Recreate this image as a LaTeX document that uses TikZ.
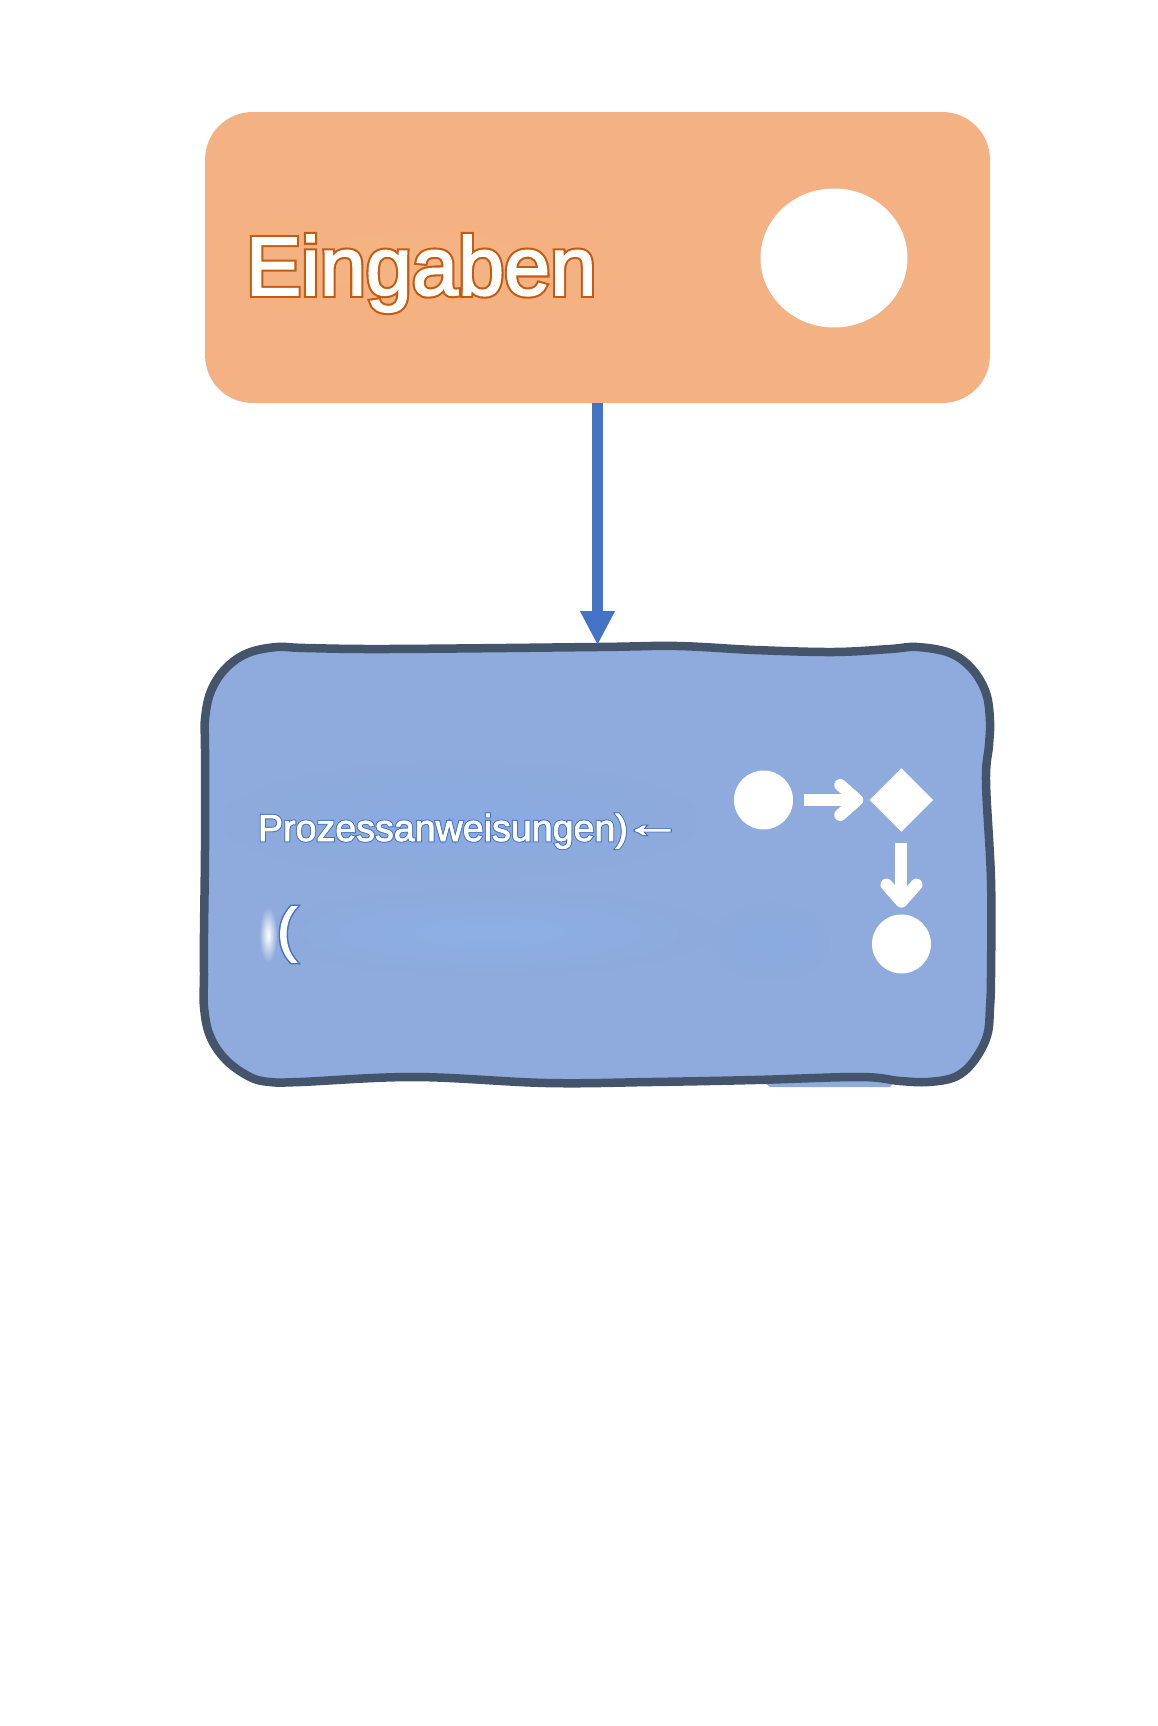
\documentclass[tikz,border=0pt]{standalone}
\usepackage{fontspec}
\usepackage{graphicx}
\setmainfont{Liberation Sans}
\newfontfamily\strokefont[FakeBold=7]{Liberation Sans}
\newfontfamily\bodyfont[FakeBold=2]{Liberation Sans}
\usetikzlibrary{positioning, arrows.meta, shapes.geometric, fadings}
\definecolor{inputfill}{HTML}{F4B183}
\definecolor{inputhaze}{HTML}{F5B582}
\definecolor{inputline}{HTML}{C55A11}
\definecolor{processfill}{HTML}{8FAADC}
\definecolor{processhaze}{HTML}{8AABE1}
\definecolor{bandhaze}{HTML}{8DB0E5}
\definecolor{processline}{HTML}{44546A}
\definecolor{flowblue}{HTML}{4472C4}
\newcommand{\outlinetext}[2]{\makebox[0pt][l]{\color{#1}\strokefont #2}{\color{white}\bodyfont #2}}
\tikzfading[name=softedge, inner color=transparent!0, outer color=transparent!100]
\tikzset{
    box/.style={inner sep=0pt, outer sep=0pt}, % both large boxes
    label/.style={inner sep=0pt, outer sep=0pt, anchor=base west},
    dot/.style={circle, fill=white, inner sep=0pt, minimum size=1.18cm},
    flow/.style={line width=0.23cm, draw=flowblue, -{Triangle[length=0.68cm, width=0.65cm]}}, % main connector
    whiteflow/.style={line width=0.24cm, draw=white, -{Straight Barb[round, length=0.34cm, width=0.6cm]}, shorten <=0.22cm, shorten >=0.13cm},
    haze/.style={path fading=softedge},
}

\begin{document}
\begin{tikzpicture}[x=0.02cm, y=-0.02cm]
    \useasboundingbox (0,0) rectangle (1157,1726);
    \node[box, fill=inputfill, rounded corners=0.95cm, minimum width=15.7cm, minimum height=5.82cm] (input) at (597.5,257.5) {};
    \node[box, minimum width=15.72cm, minimum height=8.8cm] (process) at (597.5,865) {};
    % the hand drawn outline of the lower box
    \fill[processfill] (755,1075) -- (900,1075) -- (890,1087) -- (770,1087) -- cycle;
    \draw[processline, fill=processfill, line width=0.17cm, line join=round]
        plot[smooth cycle, tension=0.6] coordinates {
            (277,647) (305,648) (389,649) (598,647) (677,646) (755,650) (834,652) (890,649) (917,647)
            (950,653) (972,669) (986,693) (990,721) (989,745) (986,782) (991,880) (991,975) (990,1007)
            (987,1036) (973,1062) (955,1077) (928,1082) (900,1081) (860,1077) (755,1080) (651,1082) (546,1083)
            (415,1077) (300,1082) (270,1082) (250,1077) (226,1060) (210,1036) (204,1007) (204,975) (204,933) (205,850)
            (205,750) (205,719) (211,691) (226,668) (248,653)};
    % faint patches behind the texts
    \fill[haze, inputhaze] (420,262) ellipse (205 and 62);
    \fill[haze, processhaze] (460,820) ellipse (240 and 60);
    \fill[haze, bandhaze] (490,932) ellipse (225 and 45);
    \fill[haze, processhaze] (770,942) ellipse (60 and 40);
    \fill[haze, white] (268,935) ellipse (9 and 28);
    % texts
    \node[label] (inputlabel) at (246,295) {\fontsize{47.2}{50}\selectfont\outlinetext{inputline}{Eingaben}};
    \node[label] (processlabel) at (258,841) {\fontsize{21.4}{25}\selectfont\outlinetext{flowblue}{Prozessanweisungen)\kern-2.5pt\raisebox{2.5pt}{\scalebox{1.55}[1]{←}}}};
    \node[label] (bracket) at (277,950) {\fontsize{34}{40}\selectfont\outlinetext{flowblue}{(}};
    % symbols
    \node[box, ellipse, fill=white, minimum width=2.94cm, minimum height=2.78cm] (inputdot) at (834,258) {};
    \node[dot] (startdot) at (763.5,800) {};
    \node[box, diamond, fill=white, minimum size=1.27cm, right=2.76cm of startdot.center, anchor=center] (decision) {};
    \node[dot, below=2.88cm of decision.center, anchor=center] (enddot) {};
    % connectors
    \draw[flow] (input.south) -- (process.north);
    \draw[whiteflow] (startdot) -- (decision);
    \draw[whiteflow] (decision) -- (enddot);
\end{tikzpicture}
\end{document}
